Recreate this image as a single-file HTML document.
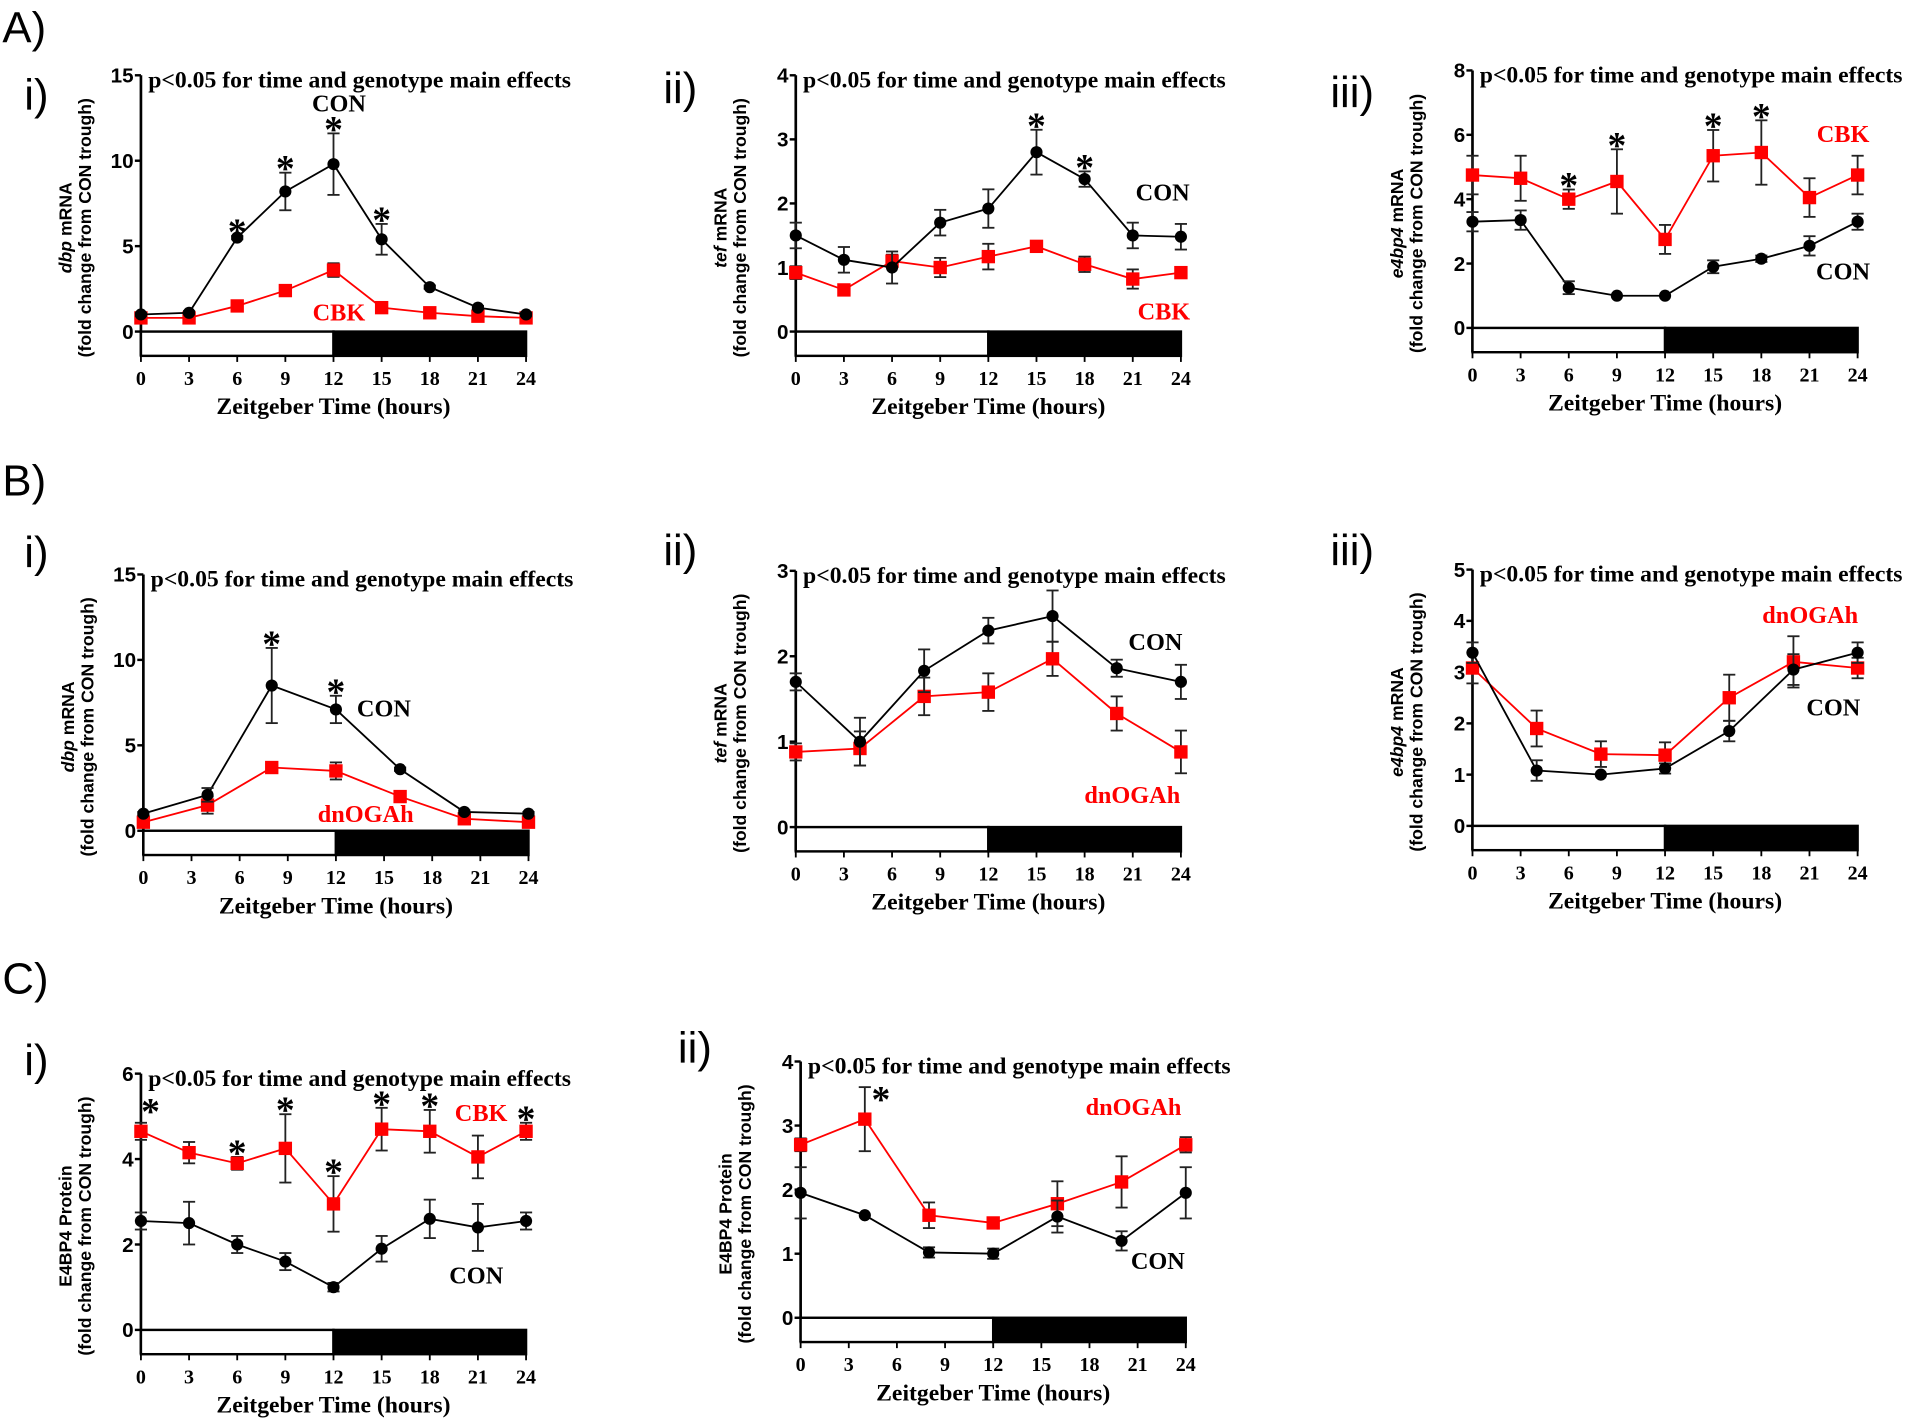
<!DOCTYPE html>
<html><head><meta charset="utf-8">
<style>
html,body{margin:0;padding:0;background:#fff;}
svg{display:block;}
.tk{font-family:"Liberation Serif",serif;font-weight:bold;font-size:16.5px;}
.ytk{font-family:"Liberation Sans",sans-serif;font-weight:bold;font-size:17px;}
.ttl{font-family:"Liberation Serif",serif;font-weight:bold;font-size:19.5px;}
.xt{font-family:"Liberation Serif",serif;font-weight:bold;font-size:19.5px;}
.yl{font-family:"Liberation Sans",sans-serif;font-weight:bold;font-size:14.5px;}
.pl{font-family:"Liberation Sans",sans-serif;font-size:36px;}
.lg{font-family:"Liberation Serif",serif;font-weight:bold;font-size:20px;}
.st{font-family:"Liberation Serif",serif;font-weight:bold;font-size:31px;}
</style></head>
<body>
<svg id="fig" width="1905" height="1421" viewBox="0 0 1568 1170" preserveAspectRatio="none" xmlns="http://www.w3.org/2000/svg">
<text class="pl" x="2" y="35">A)</text>
<text class="pl" x="2" y="408">B)</text>
<text class="pl" x="2" y="818">C)</text>
</svg>
<script>
// ---- data ----
const t3 = [0,3,6,9,12,15,18,21,24];
const t4 = [0,4,8,12,16,20,24];
const xTicks = [0,3,6,9,12,15,18,21,24];

const aiCon = [1.0,1.1,5.5,8.2,9.8,5.4,2.6,1.4,1.0];
const aiConErr = [0.1,0.1,0.1,1.1,1.8,0.9,0.1,0.1,0.1];
const aiCbk = [0.8,0.8,1.5,2.4,3.6,1.4,1.1,0.9,0.8];
const aiCbkErr = [0.05,0.05,0.1,0.3,0.4,0.1,0.05,0.05,0.05];
const aiStars = [6,9,12,15];
const aiYTicks = [0,5,10,15];

const aiiCon = [1.5,1.12,1.0,1.7,1.92,2.8,2.38,1.5,1.48];
const aiiConErr = [0.2,0.2,0.25,0.2,0.3,0.35,0.12,0.2,0.2];
const aiiCbk = [0.92,0.65,1.1,1.0,1.17,1.33,1.05,0.82,0.92];
const aiiCbkErr = [0.1,0.08,0.1,0.15,0.2,0.08,0.12,0.15,0.08];
const aiiStars = [15,18];
const aiiYTicks = [0,1,2,3,4];

const aiiiCon = [3.3,3.35,1.25,1.0,1.0,1.9,2.15,2.55,3.3];
const aiiiConErr = [0.3,0.3,0.2,0.05,0.05,0.2,0.1,0.3,0.25];
const aiiiCbk = [4.75,4.65,4.0,4.55,2.75,5.35,5.45,4.05,4.75];
const aiiiCbkErr = [0.6,0.7,0.3,1.0,0.45,0.8,1.0,0.6,0.6];
const aiiiStars = [6,9,15,18];
const aiiiYTicks = [0,2,4,6,8];

const biCon = [1.0,2.1,8.5,7.1,3.6,1.1,1.0];
const biConErr = [0.1,0.4,2.2,0.8,0.1,0.1,0.1];
const biDn = [0.5,1.5,3.7,3.5,2.0,0.7,0.5];
const biDnErr = [0.1,0.5,0.2,0.5,0.1,0.1,0.1];
const biStars = [8,12];
const biYTicks = [0,5,10,15];

const biiCon = [1.7,1.0,1.83,2.3,2.47,1.86,1.7];
const biiConErr = [0.1,0.28,0.25,0.15,0.3,0.1,0.2];
const biiDn = [0.88,0.92,1.53,1.58,1.97,1.33,0.88];
const biiDnErr = [0.1,0.2,0.22,0.22,0.2,0.2,0.25];
const biiStars = [];
const biiYTicks = [0,1,2,3];

const biiiCon = [3.38,1.08,1.0,1.12,1.85,3.05,3.38];
const biiiConErr = [0.2,0.2,0.05,0.1,0.2,0.3,0.2];
const biiiDn = [3.08,1.9,1.4,1.38,2.5,3.2,3.08];
const biiiDnErr = [0.3,0.35,0.25,0.25,0.45,0.5,0.2];
const biiiStars = [];
const biiiYTicks = [0,1,2,3,4,5];

const ciCon = [2.55,2.5,2.0,1.6,1.0,1.9,2.6,2.4,2.55];
const ciConErr = [0.2,0.5,0.2,0.2,0.1,0.3,0.45,0.55,0.2];
const ciCbk = [4.65,4.15,3.9,4.25,2.95,4.7,4.65,4.05,4.65];
const ciCbkErr = [0.2,0.25,0.15,0.8,0.65,0.5,0.5,0.5,0.2];
const ciStars = [0.6,6,9,12,15,18,24];
const ciYTicks = [0,2,4,6];

const ciiCon = [1.95,1.6,1.02,1.0,1.58,1.2,1.95];
const ciiConErr = [0.4,0.05,0.08,0.08,0.25,0.15,0.4];
const ciiDn = [2.7,3.1,1.6,1.48,1.78,2.12,2.7];
const ciiDnErr = [0.1,0.5,0.2,0.08,0.35,0.4,0.12];
const ciiStars = [5];
const ciiYTicks = [0,1,2,3,4];

// ---- layout ----
const panels = [
 {id:'a-i',lab:'i)',lx:20,ly:90,ax:116,ay0:273,ay1:62,yMax:15,gene:'dbp',noun:' mRNA',t:t3,con:aiCon,conE:aiConErr,red:aiCbk,redE:aiCbkErr,stars:aiStars,yt:aiYTicks,rn:'CBK',cl:[279,92],rl:[279,264]},
 {id:'a-ii',lab:'ii)',lx:546,ly:85,ax:655,ay0:273,ay1:62,yMax:4,gene:'tef',noun:' mRNA',t:t3,con:aiiCon,conE:aiiConErr,red:aiiCbk,redE:aiiCbkErr,stars:aiiStars,yt:aiiYTicks,rn:'CBK',cl:[957,165],rl:[958,263]},
 {id:'a-iii',lab:'iii)',lx:1095,ly:88,ax:1212,ay0:270,ay1:58,yMax:8,gene:'e4bp4',noun:' mRNA',t:t3,con:aiiiCon,conE:aiiiConErr,red:aiiiCbk,redE:aiiiCbkErr,stars:aiiiStars,yt:aiiiYTicks,rn:'CBK',cl:[1517,230],rl:[1517,117]},
 {id:'b-i',lab:'i)',lx:20,ly:467,ax:118,ay0:684,ay1:473,yMax:15,gene:'dbp',noun:' mRNA',t:t4,con:biCon,conE:biConErr,red:biDn,redE:biDnErr,stars:biStars,yt:biYTicks,rn:'dnOGAh',cl:[316,590],rl:[301,677]},
 {id:'b-ii',lab:'ii)',lx:546,ly:465,ax:655,ay0:681,ay1:470,yMax:3,gene:'tef',noun:' mRNA',t:t4,con:biiCon,conE:biiConErr,red:biiDn,redE:biiDnErr,stars:biiStars,yt:biiYTicks,rn:'dnOGAh',cl:[951,535],rl:[932,661]},
 {id:'b-iii',lab:'iii)',lx:1095,ly:465,ax:1212,ay0:680,ay1:469,yMax:5,gene:'e4bp4',noun:' mRNA',t:t4,con:biiiCon,conE:biiiConErr,red:biiiDn,redE:biiiDnErr,stars:biiiStars,yt:biiiYTicks,rn:'dnOGAh',cl:[1509,589],rl:[1490,513]},
 {id:'c-i',lab:'i)',lx:20,ly:885,ax:116,ay0:1095,ay1:884,yMax:6,gene:'',noun:'E4BP4 Protein',t:t3,con:ciCon,conE:ciConErr,red:ciCbk,redE:ciCbkErr,stars:ciStars,yt:ciYTicks,rn:'CBK',cl:[392,1057],rl:[396,923]},
 {id:'c-ii',lab:'ii)',lx:558,ly:875,ax:659,ay0:1085,ay1:874,yMax:4,gene:'',noun:'E4BP4 Protein',t:t4,con:ciiCon,conE:ciiConErr,red:ciiDn,redE:ciiDnErr,stars:ciiStars,yt:ciiYTicks,rn:'dnOGAh',cl:[953,1045],rl:[933,918]}
];
const W = 317;
const NS = 'http://www.w3.org/2000/svg';
const svg = document.getElementById('fig');
function mk(tag, attrs, parent, txt){
  const e = document.createElementNS(NS, tag);
  for (const k in attrs) e.setAttribute(k, attrs[k]);
  if (txt !== undefined) e.textContent = txt;
  parent.appendChild(e);
  return e;
}
panels.forEach(p=>{
  const g = mk('g',{},svg);
  
  
  const xs = v => p.ax + v/24*W;
  const ys = v => p.ay0 - v/p.yMax*(p.ay0-p.ay1);
  const pl = mk('text',{class:'pl',x:p.lx,y:p.ly},g,p.lab);
  
  
  const ya = mk('line',{x1:p.ax,y1:p.ay1,x2:p.ax,y2:p.ay0+20,stroke:'#000','stroke-width':2.2},g);
  
  
  p.yt.forEach(v=>{
    mk('line',{x1:p.ax-5,y1:ys(v),x2:p.ax,y2:ys(v),stroke:'#000','stroke-width':2},g);
    const t = mk('text',{class:'ytk',x:p.ax-6,y:ys(v)+6,'text-anchor':'end'},g,String(v));
    
    
  });
  const bar = mk('g',{},g);
  
  
  mk('rect',{x:p.ax,y:p.ay0,width:W/2,height:20,fill:'#fff',stroke:'#000','stroke-width':2},bar);
  mk('rect',{x:p.ax+W/2,y:p.ay0,width:W/2,height:20,fill:'#000',stroke:'#000','stroke-width':2},bar);
  xTicks.forEach(v=>{
    mk('line',{x1:xs(v),y1:p.ay0+20,x2:xs(v),y2:p.ay0+25,stroke:'#000','stroke-width':1.5},g);
    const t = mk('text',{class:'tk',x:xs(v),y:p.ay0+44,'text-anchor':'middle'},g,String(v));
    
    
  });
  const xt = mk('text',{class:'xt',x:p.ax+W/2,y:p.ay0+68,'text-anchor':'middle'},g,'Zeitgeber Time (hours)');
  
  
  const cy = (p.ay0+p.ay1)/2 + 20;
  const yl = mk('text',{class:'yl','text-anchor':'middle',transform:`translate(${p.ax-57},${cy}) rotate(-90)`},g);
  
  
  if (p.gene) mk('tspan',{'font-style':'italic'},yl,p.gene);
  mk('tspan',{},yl,p.noun);
  const yl2 = mk('text',{class:'yl','text-anchor':'middle',transform:`translate(${p.ax-41},${cy}) rotate(-90)`},g,'(fold change from CON trough)');
  
  
  const tt = mk('text',{class:'ttl',x:p.ax+6,y:p.ay1+10},g,'p<0.05 for time and genotype main effects');
  
  
  function series(vals, errs, color, kind, name){
    const sg = mk('g',{},g);
    
    
    mk('polyline',{points:vals.map((v,i)=>xs(p.t[i])+','+ys(v)).join(' '),fill:'none',stroke:color,'stroke-width':1.5},sg);
    vals.forEach((v,i)=>{
      const x = xs(p.t[i]), e = errs[i];
      if (e > 0.06) {
        mk('line',{x1:x,y1:ys(v-e),x2:x,y2:ys(v+e),stroke:'#222','stroke-width':1.5},sg);
        mk('line',{x1:x-5,y1:ys(v+e),x2:x+5,y2:ys(v+e),stroke:'#222','stroke-width':1.5},sg);
        mk('line',{x1:x-5,y1:ys(v-e),x2:x+5,y2:ys(v-e),stroke:'#222','stroke-width':1.5},sg);
      }
      let m;
      if (kind==='c') m = mk('circle',{cx:x,cy:ys(v),r:5,fill:color},sg);
      else m = mk('rect',{x:x-5.5,y:ys(v)-5.5,width:11,height:11,fill:color},sg);
      
      
    });
  }
  series(p.red, p.redE, '#f00', 's', p.rn.toLowerCase()+'-series');
  series(p.con, p.conE, '#000', 'c', 'con-series');
  p.stars.forEach(s=>{
    let top = -1e9, exact = p.t.indexOf(s) >= 0, y;
    if (exact) {
      const i = p.t.indexOf(s);
      top = Math.max(p.con[i]+p.conE[i], p.red[i]+p.redE[i]);
      y = ys(top) + 7;
    } else {
      p.t.forEach((t,i)=>{ if (Math.abs(t-s)<=2) top = Math.max(top, p.con[i], p.red[i]); });
      y = ys(top) - 6;
    }
    const st = mk('text',{class:'st',x:xs(s),y:y,'text-anchor':'middle'},g,'*');
    
    
  });
  const cl = mk('text',{class:'lg',x:p.cl[0],y:p.cl[1],'text-anchor':'middle',fill:'#000'},g,'CON');
  
  
  const rl = mk('text',{class:'lg',x:p.rl[0],y:p.rl[1],'text-anchor':'middle',fill:'#f00'},g,p.rn);
  
  
});
</script>
</body></html>
